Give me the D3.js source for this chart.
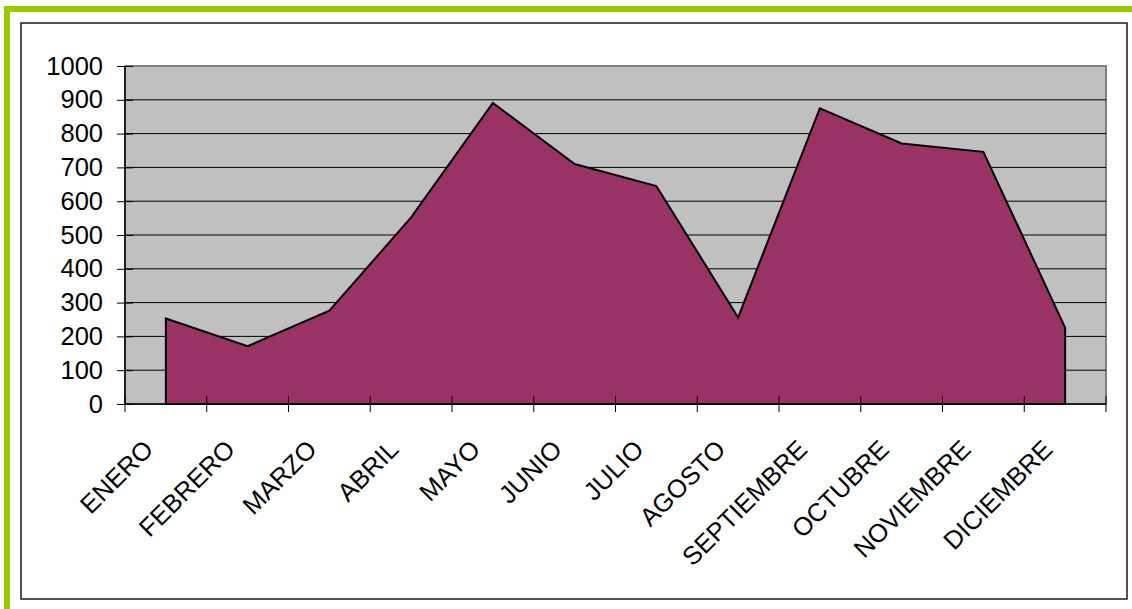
<!DOCTYPE html>
<html>
<head>
<meta charset="utf-8">
<script src="https://cdn.jsdelivr.net/npm/d3@7"></script>
<style>
  body { margin: 0; background: #fff; }
  svg text { font-family: "Liberation Sans", Arial, sans-serif; fill: #000; }
</style>
</head>
<body>
<div id="chart"></div>
<script>
(function () {

  // data
  var months = ["ENERO", "FEBRERO", "MARZO", "ABRIL", "MAYO", "JUNIO",
    "JULIO", "AGOSTO", "SEPTIEMBRE", "OCTUBRE", "NOVIEMBRE", "DICIEMBRE"]
  var values = [253, 171, 276, 552, 891, 710, 645, 256, 875, 771, 746, 226]
  var yTicks = [0, 100, 200, 300, 400, 500, 600, 700, 800, 900, 1000]

  var W = 1132, H = 609
  var margin = { top: 66, right: 26, bottom: 205, left: 125 }
  var width = W - margin.left - margin.right,
    height = H - margin.top - margin.bottom

  var svg = d3.select("#chart").append("svg")
    .attr("width", W)
    .attr("height", H)

  // green frame
  svg.append("rect").attr("x", 4).attr("y", 6).attr("width", W - 4).attr("height", 6).attr("fill", "#99cc00")
  svg.append("rect").attr("x", 4).attr("y", 6).attr("width", 6).attr("height", H - 6).attr("fill", "#99cc00")

  // chart area border
  svg.append("rect")
    .attr("x", 21).attr("y", 23)
    .attr("width", 1106).attr("height", 576)
    .attr("fill", "#fff")
    .attr("stroke", "#1a1a1a")
    .attr("stroke-width", 1.5)

  var g = svg.append("g")
    .attr("transform", "translate(" + margin.left + "," + margin.top + ")")

  var x = d3.scaleBand().domain(months).range([0, width])
  var y = d3.scaleLinear().domain([0, 1000]).range([height, 0])

  // plot background
  g.append("rect")
    .attr("width", width).attr("height", height)
    .attr("fill", "#c0c0c0")
    .attr("stroke", "#808080")
    .attr("stroke-width", 2)

  // gridlines
  g.selectAll(".grid")
    .data(yTicks.filter(function (d) { return d > 0 && d < 1000 }))
    .enter().append("line")
    .attr("x1", 0).attr("x2", width)
    .attr("y1", function (d) { return y(d) }).attr("y2", function (d) { return y(d) })
    .attr("stroke", "#000").attr("stroke-width", 1)

  // area
  var area = d3.area()
    .x(function (d, i) { return x(months[i]) + x.bandwidth() / 2 })
    .y0(y(0))
    .y1(function (d) { return y(d) })

  g.append("path")
    .datum(values)
    .attr("d", area)
    .attr("fill", "#993366")
    .attr("stroke", "#000")
    .attr("stroke-width", 2)

  // y axis
  var yAxis = d3.axisLeft(y).tickValues(yTicks).tickFormat(d3.format("d")).tickSize(8)
  var ya = g.append("g").call(yAxis)
  ya.select(".domain").attr("stroke", "#000").attr("stroke-width", 1.5).attr("d", "M0," + height + "V0")
  ya.selectAll(".tick line").attr("x2", 8).attr("x1", -8).attr("stroke", "#000")
  ya.selectAll(".tick text").style("font-size", "25.5px").attr("x", -22)

  // x axis
  var tickPos = d3.range(months.length + 1).map(function (i) { return i * x.step() })
  var xa = g.append("g").attr("transform", "translate(0," + height + ")")
  xa.append("line").attr("x1", 0).attr("x2", width).attr("stroke", "#000").attr("stroke-width", 1.5)
  xa.selectAll(".xt")
    .data(tickPos)
    .enter().append("line")
    .attr("x1", function (d) { return d }).attr("x2", function (d) { return d })
    .attr("y1", -8).attr("y2", 8)
    .attr("stroke", "#000")

  xa.selectAll(".xl")
    .data(months)
    .enter().append("text")
    .attr("text-anchor", "end")
    .attr("transform", function (d) {
      return "translate(" + (x(d) + x.bandwidth() / 2 - 11) + ",47) rotate(-45)"
    })
    .style("font-size", "25.5px")
    .text(function (d) { return d })

})()
</script>
</body>
</html>
